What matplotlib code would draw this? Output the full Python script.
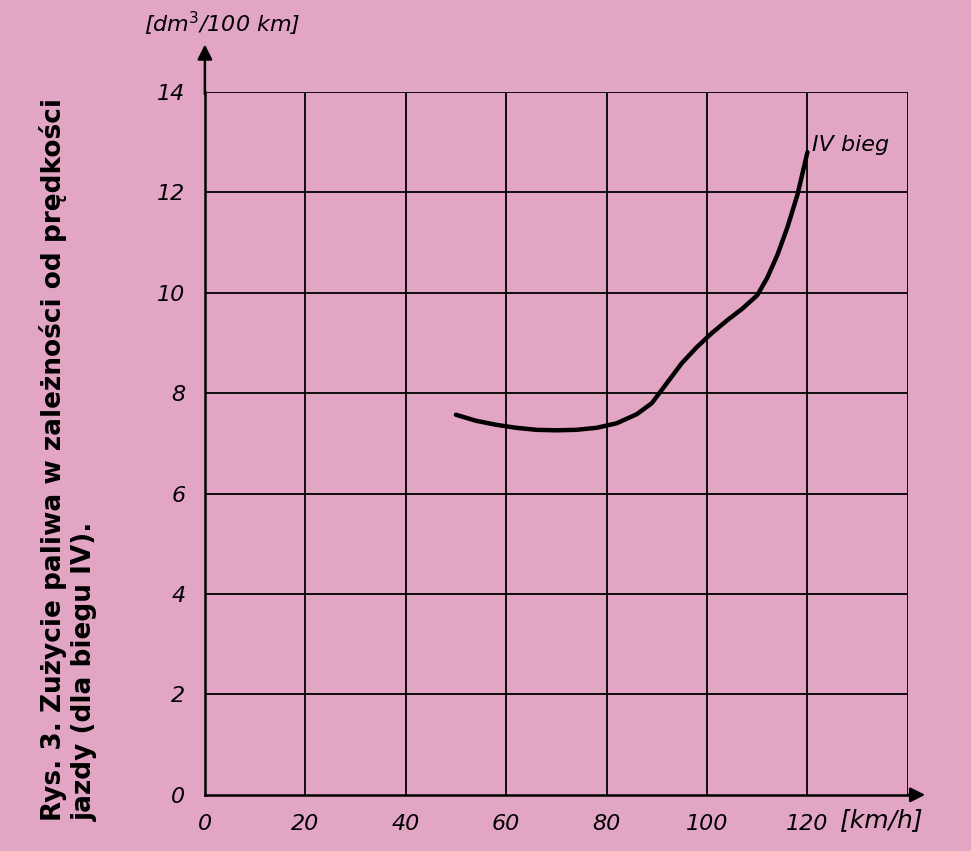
import matplotlib
matplotlib.use("Agg")
import matplotlib.pyplot as plt

speed = [50, 54, 58, 62, 66, 70, 74, 78, 82, 86, 89, 92, 95, 98, 101, 104, 107, 110, 112, 114, 116, 118, 120]
fuel = [7.57, 7.45, 7.37, 7.31, 7.27, 7.26, 7.27, 7.31, 7.4, 7.58, 7.8, 8.2, 8.6, 8.92, 9.2, 9.45, 9.68, 9.95, 10.3, 10.75, 11.3, 11.95, 12.8]
xticks = [0, 20, 40, 60, 80, 100, 120]
yticks = [0, 2, 4, 6, 8, 10, 12, 14]

bg = '#e2a5c3'
fig = plt.figure(figsize=(9.71, 8.51), dpi=100, facecolor=bg)
ax = fig.add_axes([0.211, 0.066, 0.724, 0.826], facecolor=bg)

ax.plot(speed, fuel, color='black', lw=3.2, solid_capstyle='round', solid_joinstyle='round')
for x in range(20, 141, 20):
    ax.axvline(x, color='black', lw=1.3)
for y in range(2, 15, 2):
    ax.axhline(y, color='black', lw=1.3)

ax.set_xlim(0, 140)
ax.set_ylim(0, 14)
for s in ['top', 'right']:
    ax.spines[s].set_visible(False)
for s in ['left', 'bottom']:
    ax.spines[s].set_linewidth(1.8)
ax.set_xticks(xticks)
ax.set_yticks(yticks)
ax.set_xticklabels([str(v) for v in xticks], fontsize=16, style='italic')
ax.set_yticklabels([str(v) for v in yticks], fontsize=16, style='italic')
ax.tick_params(length=0, pad=14)

ax.annotate('', xy=(0, 15.0), xytext=(0, 13.9), xycoords='data',
            arrowprops=dict(arrowstyle='-|>', color='black', lw=1.8, mutation_scale=22),
            annotation_clip=False)
ax.annotate('', xy=(144, 0), xytext=(139.5, 0), xycoords='data',
            arrowprops=dict(arrowstyle='-|>', color='black', lw=1.8, mutation_scale=22),
            annotation_clip=False)

ax.text(121, 12.95, 'IV bieg', fontsize=16, style='italic', ha='left', va='center')
fig.text(0.148, 0.972, '[dm$^3$/100 km]', fontsize=16, style='italic', ha='left', va='center')
fig.text(0.865, 0.036, '[km/h]', fontsize=18, style='italic', ha='left', va='center')

fig.text(0.055, 0.035, 'Rys. 3. Zużycie paliwa w zależności od prędkości',
         rotation=90, fontsize=19, fontweight='bold', ha='center', va='bottom')
fig.text(0.087, 0.035, 'jazdy (dla biegu IV).',
         rotation=90, fontsize=19, fontweight='bold', ha='center', va='bottom')

fig.savefig('out.png', dpi=100, facecolor=bg)
